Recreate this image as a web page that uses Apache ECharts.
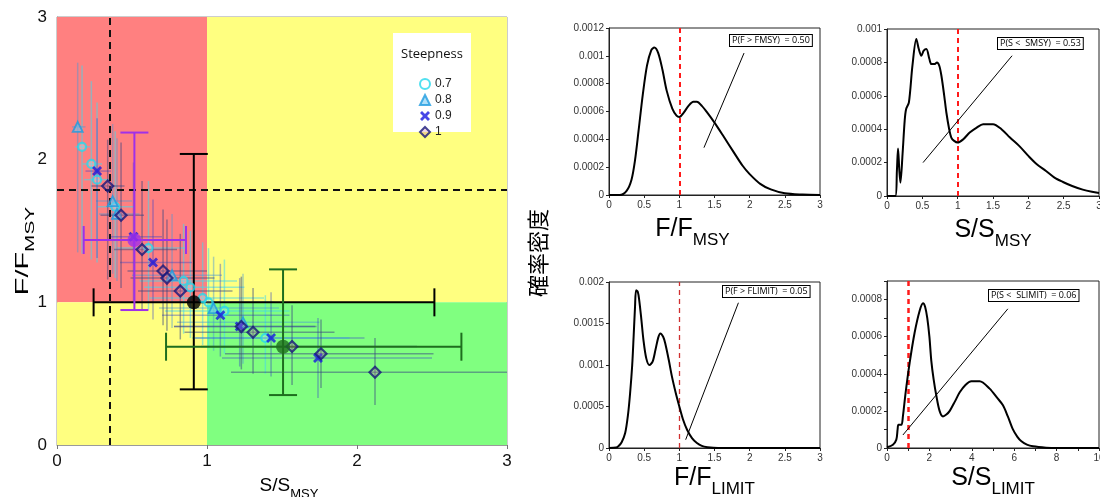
<!DOCTYPE html>
<html><head><meta charset="utf-8">
<script src="https://cdn.jsdelivr.net/npm/echarts@6/dist/echarts.min.js"></script>
<style>html,body{margin:0;padding:0;background:#fff}#c{width:1100px;height:497px}</style>
</head><body><div id="c"></div>
<script>
// ---------- DATA ----------
// Kobe plot points: [S/SMSY, F/FMSY, xLow, xHigh, yLow, yHigh]
const steep07 = [[0.167,2.09,0.12,0.22,1.34,2.66],[0.229,1.97,0.17,0.30,1.30,2.55],[0.267,1.86,0.18,0.36,1.28,2.40],[0.388,1.67,0.27,0.52,1.17,2.20],[0.61,1.38,0.40,0.86,0.95,1.85],[0.844,1.15,0.55,1.20,0.78,1.55],[0.889,1.105,0.58,1.25,0.75,1.50],[0.971,1.03,0.62,1.38,0.70,1.42],[1.01,1.0,0.65,1.45,0.68,1.38],[1.116,0.94,0.72,1.55,0.64,1.30],[1.389,0.75,0.90,1.95,0.50,1.05]];
const steep08 = [[0.138,2.23,0.10,0.19,1.35,2.68],[0.371,1.71,0.26,0.50,1.20,2.25],[0.40,1.62,0.28,0.55,1.15,2.15],[0.767,1.19,0.50,1.10,0.82,1.62],[1.044,0.96,0.68,1.48,0.66,1.32],[1.24,0.86,0.80,1.75,0.57,1.20]];
const steep09 = [[0.267,1.92,0.19,0.36,1.31,2.29],[0.51,1.46,0.35,0.70,1.00,1.98],[0.64,1.28,0.42,0.90,0.88,1.72],[1.089,0.91,0.70,1.55,0.62,1.27],[1.218,0.83,0.78,1.72,0.55,1.17],[1.427,0.75,0.92,2.05,0.48,1.07],[1.74,0.61,1.10,2.50,0.33,0.89]];
const steep10 = [[0.338,1.815,0.23,0.45,1.16,2.14],[0.427,1.61,0.29,0.58,1.10,2.12],[0.567,1.37,0.38,0.80,0.94,1.85],[0.707,1.22,0.47,1.00,0.84,1.65],[0.733,1.17,0.49,1.05,0.80,1.58],[0.822,1.08,0.54,1.17,0.74,1.48],[1.229,0.83,0.78,1.73,0.53,1.18],[1.307,0.79,0.85,1.85,0.50,1.10],[1.567,0.69,0.96,2.40,0.42,0.98],[1.76,0.64,1.12,2.51,0.40,0.88],[2.12,0.51,1.16,3.0,0.28,0.75]];
const summaryBlack = [[0.912,1.0,0.244,2.516,0.39,2.04]];
const summaryPurple = [[0.516,1.437,0.178,0.86,0.946,2.19]];
const summaryGreen = [[1.507,0.689,0.727,2.696,0.35,1.231]];
const steepLabels = ['0.7','0.8','0.9','1'];
const refS = 0.351, refF = 1.787;

// density curves
const fmsyX = [0,0.15,0.25,0.32,0.37,0.42,0.48,0.54,0.6,0.645,0.7,0.76,0.82,0.9,0.96,1.0,1.06,1.13,1.2,1.25,1.32,1.4,1.5,1.63,1.77,1.9,2.0,2.15,2.3,2.5,2.75,3.0];
const fmsyY = [0,0,0.00003,0.00011,0.00025,0.00046,0.00072,0.00093,0.00104,0.00106,0.00102,0.0009,0.00075,0.00062,0.00057,0.00056,0.00059,0.00064,0.00067,0.00067,0.00064,0.00059,0.00052,0.00042,0.00031,0.00021,0.00015,0.00008,0.00004,0.000012,0.000003,0];
const smsyX = [0,0.118,0.14,0.156,0.175,0.19,0.22,0.25,0.27,0.31,0.36,0.415,0.45,0.486,0.52,0.557,0.6,0.627,0.67,0.707,0.74,0.77,0.81,0.84,0.88,0.91,0.95,1.0,1.08,1.17,1.27,1.36,1.5,1.62,1.74,1.87,2.0,2.12,2.25,2.37,2.49,2.62,2.77,2.9,3.0];
const smsyY = [0,0,0.00015,0.000285,0.00015,0.00008,0.00025,0.00045,0.00052,0.00056,0.00078,0.00094,0.00088,0.00084,0.00087,0.00088,0.00082,0.00079,0.00079,0.0008,0.00078,0.00072,0.0006,0.0005,0.0004,0.00035,0.00033,0.00032,0.00034,0.00038,0.00041,0.00043,0.00043,0.0004,0.00035,0.0003,0.00024,0.00019,0.00015,0.00011,0.000084,0.00006,0.000038,0.000025,0.000018];
const flimX = [0,0.1,0.133,0.18,0.23,0.27,0.3,0.33,0.35,0.37,0.385,0.41,0.43,0.46,0.49,0.53,0.575,0.62,0.66,0.7,0.73,0.77,0.8,0.85,0.895,0.95,1.0,1.05,1.11,1.18,1.25,1.32,1.4,1.55,2.0,3.0];
const flimY = [0,0.000005,0.00002,0.00007,0.00018,0.0004,0.00066,0.001,0.00134,0.0017,0.0019,0.00188,0.00178,0.00155,0.0013,0.00108,0.001,0.00104,0.00118,0.00133,0.00138,0.00134,0.00126,0.00106,0.00086,0.00066,0.0005,0.00035,0.00022,0.00012,0.00006,0.000025,0.00001,0,0,0];
const slimX = [0,0.28,0.44,0.5,0.54,0.68,0.75,0.88,1.07,1.3,1.54,1.7,1.8,1.9,2.0,2.09,2.2,2.33,2.48,2.64,2.8,2.96,3.2,3.43,3.7,3.98,4.37,4.84,5.2,5.47,5.7,5.94,6.15,6.34,6.6,6.89,7.5,8,10];
const slimY = [0.000004,0.000018,0.000045,0.0001,0.000125,0.000125,0.00017,0.0003,0.00046,0.00062,0.00074,0.00078,0.00076,0.0007,0.0006,0.00047,0.00037,0.00028,0.0002,0.00017,0.00018,0.0002,0.00025,0.0003,0.00034,0.00036,0.00036,0.00032,0.00027,0.00023,0.00017,0.0001,0.00006,0.000036,0.000018,0.000009,0.000002,0,0];
// annotations: [text, leader start x, y, leader end x, y]
const noteF  = ['P(F > FMSY)  = 0.50', 1.92, 0.00102, 1.35, 0.00034];
const noteS  = ['P(S <  SMSY)  = 0.53', 1.77, 0.00084, 0.51, 0.0002];
const noteFL = ['P(F > FLIMIT)  = 0.05', 1.84, 0.00175, 1.09, 0.0001];
const noteSL = ['P(S <  SLIMIT)  = 0.06', 5.7, 0.00075, 0.75, 0.00007];
const yLabel = '確率密度';

// ---------- CHART ----------
const FONT = 'Liberation Sans, Arial, sans-serif';
const chart = echarts.init(document.getElementById('c'));
const zip = (a, b) => a.map((v, i) => [v, b[i]]);
const fmtNum = v => String(+v.toFixed(6));

function errRender(color, lw, cap) {
  return function (params, api) {
    const x = api.value(0), y = api.value(1);
    const xl = api.coord([api.value(2), y]), xh = api.coord([api.value(3), y]);
    const yl = api.coord([x, api.value(4)]), yh = api.coord([x, api.value(5)]);
    const st = { stroke: color, lineWidth: lw };
    const ch = [
      { type: 'line', shape: { x1: xl[0], y1: xl[1], x2: xh[0], y2: xh[1] }, style: st },
      { type: 'line', shape: { x1: yl[0], y1: yl[1], x2: yh[0], y2: yh[1] }, style: st }
    ];
    if (cap) {
      ch.push({ type: 'line', shape: { x1: xl[0], y1: xl[1] - cap, x2: xl[0], y2: xl[1] + cap }, style: st });
      ch.push({ type: 'line', shape: { x1: xh[0], y1: xh[1] - cap, x2: xh[0], y2: xh[1] + cap }, style: st });
      ch.push({ type: 'line', shape: { x1: yl[0] - cap, y1: yl[1], x2: yl[0] + cap, y2: yl[1] }, style: st });
      ch.push({ type: 'line', shape: { x1: yh[0] - cap, y1: yh[1], x2: yh[0] + cap, y2: yh[1] }, style: st });
    }
    return { type: 'group', children: ch };
  };
}
function errSeries(data, color, lw, cap, z) {
  return { type: 'custom', xAxisIndex: 0, yAxisIndex: 0, data: data, silent: true, z: z,
    renderItem: errRender(color, lw, cap), encode: { x: [0, 2, 3], y: [1, 4, 5] } };
}
const crossPath = 'path://M2,0 L5,3 L8,0 L10,2 L7,5 L10,8 L8,10 L5,7 L2,10 L0,8 L3,5 L0,2 Z';

function richSub(big, small) {
  return {
    a: { fontSize: big, fontFamily: FONT, color: '#000', lineHeight: big * 1.6, verticalAlign: 'middle' },
    b: { fontSize: small, fontFamily: FONT, color: '#000', lineHeight: small * 1.2, verticalAlign: 'bottom' }
  };
}
function subName(main, sub, big, small, pad) {
  return { name: '{a|' + main + '}{b|' + sub + '}', nameTextStyle: { padding: pad || 0, rich: richSub(big, small) } };
}
function panelX(idx, max, interval, nm, extra) {
  return Object.assign({ gridIndex: idx, type: 'value', min: 0, max: max, interval: interval,
    nameLocation: 'middle', nameGap: 14,
    axisLine: { show: true, lineStyle: { color: '#222' } },
    axisTick: { show: true, length: 3, lineStyle: { color: '#222' } },
    axisLabel: { fontSize: 10, color: '#333', fontFamily: FONT, margin: 5, formatter: fmtNum },
    splitLine: { show: false } }, nm, extra || {});
}
function panelY(idx, max, interval, extra) {
  return Object.assign({ gridIndex: idx, type: 'value', min: 0, max: max, interval: interval,
    axisLine: { show: true, lineStyle: { color: '#222' } },
    axisTick: { show: true, length: 3, lineStyle: { color: '#222' } },
    axisLabel: { fontSize: 10, color: '#333', fontFamily: FONT, margin: 5, formatter: fmtNum },
    splitLine: { show: false } }, extra || {});
}
function densSeries(idx, xs, ys, note, redW, redColor) {
  return { type: 'line', xAxisIndex: idx, yAxisIndex: idx, data: zip(xs, ys), smooth: 0.3,
    showSymbol: false, silent: true, lineStyle: { color: '#000', width: 2 }, z: 5,
    markLine: { silent: true, symbol: ['none', 'none'], label: { show: false },
      data: [
        { xAxis: 1, lineStyle: { color: redColor, width: redW, type: [5, 4] } },
        [{ coord: [note[1], note[2]], lineStyle: { color: '#000', width: 1, type: 'solid' } }, { coord: [note[3], note[4]] }]
      ] } };
}
function noteBox(note, x, y) {
  return { type: 'text', left: x, top: y, z: 100, style: { text: note[0], font: '9px "Open Sans", sans-serif', fill: '#000',
    backgroundColor: '#fff', borderColor: '#000', borderWidth: 1, padding: [1, 2, 1, 2] } };
}
const gridBase = { show: true, borderWidth: 1, outerBoundsMode: 'none', containLabel: false };

const option = {
  animation: false,
  textStyle: { fontFamily: FONT },
  grid: [
    Object.assign({ left: 57, top: 17, width: 450, height: 428, borderColor: '#9a9a9a' }, gridBase),
    Object.assign({ left: 609, top: 28, width: 211, height: 167, borderColor: '#222' }, gridBase),
    Object.assign({ left: 887, top: 29, width: 212, height: 167, borderColor: '#222' }, gridBase),
    Object.assign({ left: 609, top: 282, width: 211, height: 166, borderColor: '#222' }, gridBase),
    Object.assign({ left: 887, top: 281, width: 212, height: 167, borderColor: '#222' }, gridBase)
  ],
  xAxis: [
    Object.assign({ gridIndex: 0, type: 'value', min: 0, max: 3, interval: 1, nameLocation: 'middle', nameGap: 26,
      axisLine: { show: true, lineStyle: { color: '#9a9a9a' } }, axisTick: { show: true, length: 4, lineStyle: { color: '#777' } },
      axisLabel: { fontSize: 17, color: '#111', margin: 8 }, splitLine: { show: false } }, subName('S/S', 'MSY', 19, 13, [0, 0, 0, 14])),
    panelX(1, 3, 0.5, subName('F/F', 'MSY', 25, 17, [0, 44, 0, 0])),
    panelX(2, 3, 0.5, subName('S/S', 'MSY', 25, 17)),
    panelX(3, 3, 0.5, subName('F/F', 'LIMIT', 25, 17), { nameGap: 10 }),
    panelX(4, 10, 2, subName('S/S', 'LIMIT', 25, 17), { nameGap: 10, minorTick: { show: true, splitNumber: 2, length: 3, lineStyle: { color: '#222' } } })
  ],
  yAxis: [
    { gridIndex: 0, type: 'value', min: 0, max: 3, interval: 1,
      axisLine: { show: true, lineStyle: { color: '#9a9a9a' } }, axisTick: { show: false },
      axisLabel: { fontSize: 17, color: '#111', margin: 10 }, splitLine: { show: false } },
    panelY(1, 0.0012, 0.0002),
    panelY(2, 0.001, 0.0002),
    panelY(3, 0.002, 0.0005),
    panelY(4, 0.0009, 0.0002, { axisLabel: { fontSize: 10, color: '#333', margin: 5, formatter: fmtNum, showMaxLabel: false },
      minorTick: { show: true, splitNumber: 2, length: 3, lineStyle: { color: '#222' } } })
  ],
  legend: {
    data: steepLabels, orient: 'vertical', left: 414, top: 73, itemGap: 4, itemWidth: 10, itemHeight: 10,
    textStyle: { fontSize: 12, color: '#222', fontFamily: FONT }, selectedMode: false, z: 50
  },
  graphic: [
    { type: 'rect', shape: { x: 393, y: 33, width: 78, height: 99 }, style: { fill: '#fff' }, z: 40 },
    { type: 'text', x: 432, y: 54, z: 45, style: { text: 'Steepness', font: '13px "Open Sans", sans-serif', fill: '#111', align: 'center', verticalAlign: 'middle' } },
    { type: 'text', x: 538, y: 253, rotation: Math.PI / 2, z: 45, style: { text: yLabel, font: '22px "Noto Sans CJK JP", sans-serif', fill: '#000', align: 'center', verticalAlign: 'middle' } },
    { type: 'text', x: 23, y: 251, rotation: Math.PI / 2, scaleX: 1.6, z: 45,
      style: { text: '{a|F/F}{b|MSY}', rich: richSub(18, 13), align: 'center', verticalAlign: 'middle' } },
    noteBox(noteF, 729, 34),
    noteBox(noteS, 997, 37),
    noteBox(noteFL, 722, 285),
    noteBox(noteSL, 988, 289)
  ],
  series: [
    { type: 'line', xAxisIndex: 0, yAxisIndex: 0, data: [], silent: true, z: 1,
      markArea: { silent: true, data: [
        [{ xAxis: 0, yAxis: 1, itemStyle: { color: '#FF8080', opacity: 1 } }, { xAxis: 1, yAxis: 3 }],
        [{ xAxis: 1, yAxis: 1, itemStyle: { color: '#FFFF80', opacity: 1 } }, { xAxis: 3, yAxis: 3 }],
        [{ xAxis: 0, yAxis: 0, itemStyle: { color: '#FFFF80', opacity: 1 } }, { xAxis: 1, yAxis: 1 }],
        [{ xAxis: 1, yAxis: 0, itemStyle: { color: '#80FF80', opacity: 1 } }, { xAxis: 3, yAxis: 1 }]
      ] },
      markLine: { silent: true, symbol: ['none', 'none'], label: { show: false },
        lineStyle: { color: '#111', width: 2, type: [7, 5] },
        data: [{ xAxis: refS }, { yAxis: refF }] } },
    errSeries(steep07, 'rgba(70,215,235,0.55)', 1.5, 0, 3),
    errSeries(steep08, 'rgba(70,150,215,0.45)', 1.5, 0, 3),
    errSeries(steep09, 'rgba(50,60,200,0.4)', 1.5, 0, 3),
    errSeries(steep10, 'rgba(55,70,130,0.5)', 1.5, 0, 3),
    errSeries(summaryBlack, '#000', 2, 14, 6),
    errSeries(summaryPurple, '#A030E8', 2, 14, 6),
    errSeries(summaryGreen, '#1E6E1E', 2, 14, 6),
    { name: '0.7', type: 'scatter', xAxisIndex: 0, yAxisIndex: 0, data: steep07.map(d => [d[0], d[1]]), symbol: 'circle', symbolSize: 8, z: 8,
      itemStyle: { color: 'rgba(255,255,255,0.25)', borderColor: '#25D8EC', borderWidth: 2.2 } },
    { name: '0.8', type: 'scatter', xAxisIndex: 0, yAxisIndex: 0, data: steep08.map(d => [d[0], d[1]]), symbol: 'triangle', symbolSize: 10, z: 8,
      itemStyle: { color: 'rgba(110,200,245,0.7)', borderColor: '#1E9BE0', borderWidth: 1.8 } },
    { name: '0.9', type: 'scatter', xAxisIndex: 0, yAxisIndex: 0, data: steep09.map(d => [d[0], d[1]]), symbol: crossPath, symbolSize: 10, z: 8,
      itemStyle: { color: '#1818E0' } },
    { name: '1', type: 'scatter', xAxisIndex: 0, yAxisIndex: 0, data: steep10.map(d => [d[0], d[1]]), symbol: 'diamond', symbolSize: 11, z: 8,
      itemStyle: { color: 'rgba(200,120,160,0.35)', borderColor: '#16167A', borderWidth: 2.2 } },
    { type: 'scatter', xAxisIndex: 0, yAxisIndex: 0, data: summaryBlack.map(d => [d[0], d[1]]), symbolSize: 14, z: 9, itemStyle: { color: '#000' } },
    { type: 'scatter', xAxisIndex: 0, yAxisIndex: 0, data: summaryPurple.map(d => [d[0], d[1]]), symbolSize: 14, z: 9, itemStyle: { color: '#A030E8' } },
    { type: 'scatter', xAxisIndex: 0, yAxisIndex: 0, data: summaryGreen.map(d => [d[0], d[1]]), symbolSize: 14, z: 9, itemStyle: { color: '#1E6E1E' } },
    densSeries(1, fmsyX, fmsyY, noteF, 2, '#FF1A1A'),
    densSeries(2, smsyX, smsyY, noteS, 2, '#FF1A1A'),
    densSeries(3, flimX, flimY, noteFL, 1.3, '#D03030'),
    densSeries(4, slimX, slimY, noteSL, 2.5, '#FF1A1A')
  ]
};
chart.setOption(option);
</script></body></html>
